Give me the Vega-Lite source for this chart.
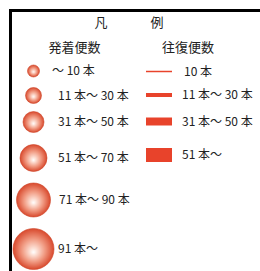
{
  "$schema": "https://vega.github.io/schema/vega-lite/v6.json",
  "width": 260,
  "height": 271,
  "padding": 0,
  "autosize": "none",
  "background": "white",
  "config": {"view": {"stroke": null}},
  "datasets": {
    "frame": [
      {"x": 10.5, "y": 10.5, "x2": 260, "y2": 10.5},
      {"x": 10.5, "y": 9, "x2": 10.5, "y2": 271}
    ],
    "titles": [
      {"text": "凡", "x": 101, "y": 23},
      {"text": "例", "x": 157, "y": 23},
      {"text": "発着便数", "x": 74.5, "y": 47.5},
      {"text": "往復便数", "x": 188, "y": 47.5}
    ],
    "flights": [
      {"n": 10, "label": "～ 10 本", "x": 33.5, "y": 71, "lx": 52},
      {"n": 30, "label": "11 本～ 30 本", "x": 33.5, "y": 95.5, "lx": 58},
      {"n": 50, "label": "31 本～ 50 本", "x": 33.5, "y": 122, "lx": 58},
      {"n": 70, "label": "51 本～ 70 本", "x": 33.5, "y": 158, "lx": 58},
      {"n": 90, "label": "71 本～ 90 本", "x": 33.5, "y": 200, "lx": 59},
      {"n": 110, "label": "91 本～", "x": 33.5, "y": 249, "lx": 58}
    ],
    "roundtrips": [
      {"n": 10, "label": "10 本", "x": 146, "x2": 172, "y": 71.5, "lx": 184},
      {"n": 30, "label": "11 本～ 30 本", "x": 146, "x2": 172, "y": 95, "lx": 182},
      {"n": 50, "label": "31 本～ 50 本", "x": 146, "x2": 172, "y": 121.5, "lx": 182},
      {"n": 70, "label": "51 本～", "x": 146, "x2": 172, "y": 155, "lx": 182}
    ]
  },
  "layer": [
    {
      "data": {"name": "frame"},
      "mark": {"type": "rule", "color": "#000000", "strokeWidth": 3},
      "encoding": {
        "x": {"field": "x", "type": "quantitative", "scale": {"domain": [0, 260]}, "axis": null},
        "x2": {"field": "x2"},
        "y": {"field": "y", "type": "quantitative", "scale": {"domain": [0, 271], "reverse": true}, "axis": null},
        "y2": {"field": "y2"}
      }
    },
    {
      "data": {"name": "titles"},
      "mark": {"type": "text", "font": "Noto Sans CJK JP", "fontSize": 13, "align": "center", "baseline": "middle", "color": "#222222"},
      "encoding": {
        "x": {"field": "x", "type": "quantitative", "scale": {"domain": [0, 260]}, "axis": null},
        "y": {"field": "y", "type": "quantitative", "scale": {"domain": [0, 271], "reverse": true}, "axis": null},
        "text": {"field": "text"}
      }
    },
    {
      "data": {"name": "flights"},
      "mark": {
        "type": "point",
        "shape": "circle",
        "filled": true,
        "opacity": 1,
        "fill": {
          "gradient": "radial",
          "x1": 0.5, "y1": 0.58, "r1": 0,
          "x2": 0.5, "y2": 0.5, "r2": 0.5,
          "stops": [
            {"offset": 0, "color": "#ffffff"},
            {"offset": 0.15, "color": "#fde4da"},
            {"offset": 0.55, "color": "#f19c84"},
            {"offset": 1, "color": "#d8492d"}
          ]
        },
        "stroke": "#cf4429",
        "strokeWidth": 0.6
      },
      "encoding": {
        "x": {"field": "x", "type": "quantitative", "scale": {"domain": [0, 260]}, "axis": null},
        "y": {"field": "y", "type": "quantitative", "scale": {"domain": [0, 271], "reverse": true}, "axis": null},
        "size": {
          "field": "n", "type": "quantitative", "legend": null,
          "scale": {"type": "linear", "domain": [10, 30, 50, 70, 90, 110], "range": [144, 256, 441, 729, 1156, 1681]}
        }
      }
    },
    {
      "data": {"name": "flights"},
      "mark": {"type": "text", "font": "Noto Sans CJK JP", "fontSize": 12, "align": "left", "baseline": "middle", "color": "#222222"},
      "encoding": {
        "x": {"field": "lx", "type": "quantitative", "scale": {"domain": [0, 260]}, "axis": null},
        "y": {"field": "y", "type": "quantitative", "scale": {"domain": [0, 271], "reverse": true}, "axis": null},
        "text": {"field": "label"}
      }
    },
    {
      "data": {"name": "roundtrips"},
      "mark": {"type": "rule", "color": "#e8432b", "strokeCap": "butt"},
      "encoding": {
        "x": {"field": "x", "type": "quantitative", "scale": {"domain": [0, 260]}, "axis": null},
        "x2": {"field": "x2"},
        "y": {"field": "y", "type": "quantitative", "scale": {"domain": [0, 271], "reverse": true}, "axis": null},
        "strokeWidth": {
          "field": "n", "type": "quantitative", "legend": null,
          "scale": {"type": "linear", "domain": [10, 30, 50, 70], "range": [1.5, 4, 8, 14]}
        }
      }
    },
    {
      "data": {"name": "roundtrips"},
      "mark": {"type": "text", "font": "Noto Sans CJK JP", "fontSize": 12, "align": "left", "baseline": "middle", "color": "#222222"},
      "encoding": {
        "x": {"field": "lx", "type": "quantitative", "scale": {"domain": [0, 260]}, "axis": null},
        "y": {"field": "y", "type": "quantitative", "scale": {"domain": [0, 271], "reverse": true}, "axis": null},
        "text": {"field": "label"}
      }
    }
  ],
  "resolve": {"scale": {"size": "independent", "strokeWidth": "independent"}}
}
